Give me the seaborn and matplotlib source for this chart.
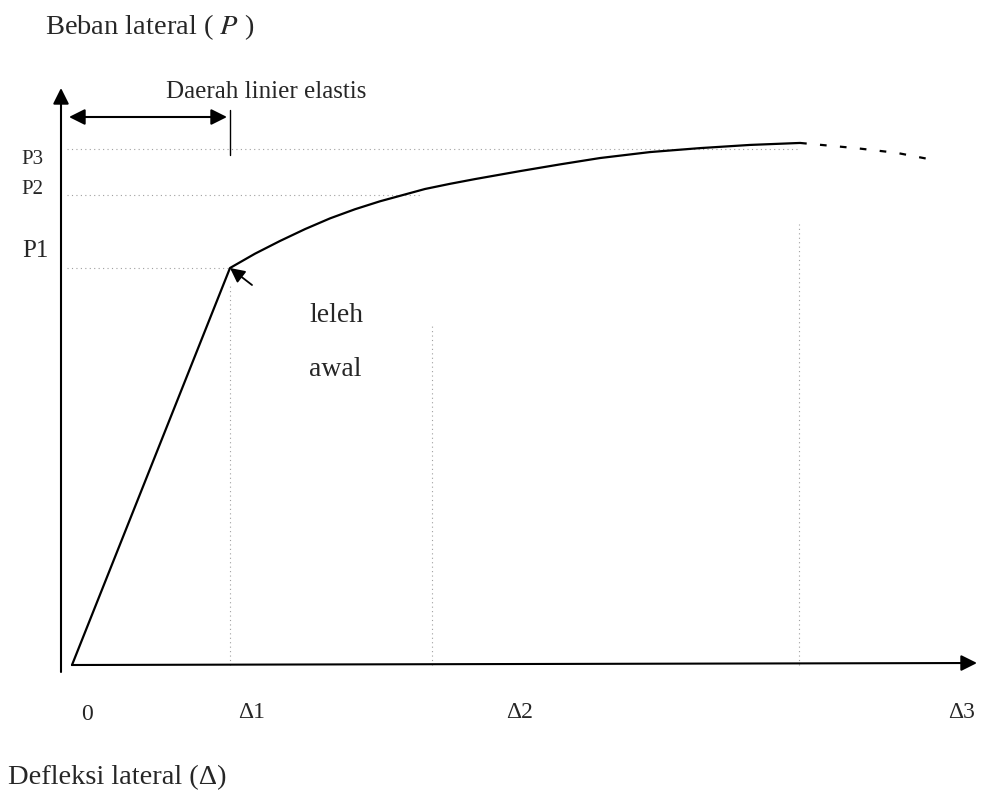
import matplotlib
matplotlib.use("Agg")
import matplotlib.pyplot as plt
import seaborn as sns

# Load-deflection curve (arbitrary units: delta1 = 1, P1 = 10)
deflection = [0.0, 1.0, 1.158, 1.316, 1.475, 1.633, 1.791, 1.949, 2.234,
              2.392, 2.551, 2.835, 3.089, 3.342, 3.658, 3.975, 4.291, 4.608]
load = [0.0, 10.0, 10.36, 10.68, 10.98, 11.25, 11.48, 11.68, 11.99,
        12.12, 12.24, 12.44, 12.61, 12.77, 12.92, 13.02, 13.10, 13.15]

# dashed descending tail after the peak
tail_deflection = [4.608, 4.96, 5.22, 5.48]
tail_load = [13.15, 13.02, 12.90, 12.70]

# reference levels
load_levels = [10.0, 11.85, 13.0]
load_labels = ["P1", "P2", "P3"]
load_guide_end = [1.0, 2.2, 4.6]

deflection_levels = [1.0, 2.28, 4.6]
deflection_labels = ["Δ1", "Δ2", "Δ3"]
deflection_guide_top = [9.6, 8.6, 11.1]

# pixel -> data helper (origin of the diagram sits at pixel 72, 665)
X0, Y0, SX, SY = 72, 665, 158, 39.7


def px(x, y):
    return (x - X0) / SX, (Y0 - y) / SY


sns.set_style("white")
plt.rcParams["font.family"] = ["Liberation Serif", "DejaVu Serif"]
plt.rcParams["mathtext.fontset"] = "stix"

fig = plt.figure(figsize=(9.9, 8.02), dpi=100)
ax = fig.add_axes([0, 0, 1, 1])

# dotted guide lines
guide = dict(color="#a0a0a0", lw=0.8, linestyle=(0, (1, 3)))
for lvl, end in zip(load_levels, load_guide_end):
    ax.plot([-0.03, end], [lvl, lvl], **guide)
for lvl, top in zip(deflection_levels, deflection_guide_top):
    ax.plot([lvl, lvl], [0, top], **guide)

# main curve
sns.lineplot(x=deflection, y=load, sort=False, color="black", lw=1.6, ax=ax)
sns.lineplot(x=tail_deflection, y=tail_load, sort=False, color="black",
             lw=1.6, linestyle=(0, (3, 6)), ax=ax)

# axes with arrows
arrow = dict(arrowstyle="-|>", color="black", lw=1.5, mutation_scale=24,
             shrinkA=0, shrinkB=0)
ax.annotate("", xy=px(61, 88), xytext=px(61, 672), arrowprops=arrow)
ax.annotate("", xy=px(977, 663), xytext=px(72, 665), arrowprops=arrow)

# elastic region marker
ax.annotate("", xy=px(69, 117), xytext=px(227, 117),
            arrowprops=dict(arrowstyle="<|-|>", color="black", lw=1.5,
                            mutation_scale=24, shrinkA=0, shrinkB=0))
ax.plot([deflection_levels[0]] * 2, [px(0, 155)[1], px(0, 110)[1]],
        color="black", lw=1.0)

# arrow to the first yield point
ax.annotate("", xy=(deflection[1], load[1]), xytext=px(252, 285),
            arrowprops=dict(arrowstyle="-|>", color="black", lw=1.3,
                            mutation_scale=22, shrinkA=0, shrinkB=0))

# texts
ax.text(*px(45, 27), "Beban lateral ( $P$ )", fontsize=20.5, ha="left", va="center")
ax.text(*px(166, 92), "Daerah linier elastis", fontsize=18, ha="left", va="center")
ax.text(*px(21, 160), load_labels[2], fontsize=15, ha="left", va="center")
ax.text(*px(21, 189), load_labels[1], fontsize=15, ha="left", va="center")
ax.text(*px(22, 251), load_labels[0], fontsize=18, ha="left", va="center")
ax.text(*px(309, 316), "leleh", fontsize=20, ha="left", va="center")
ax.text(*px(309, 369), "awal", fontsize=20, ha="left", va="center")

ax.text(*px(87, 715), "0", fontsize=17, ha="center", va="center")
for lab, xp in zip(deflection_labels, [252, 520, 962]):
    ax.text(*px(xp, 712), lab, fontsize=17, ha="center", va="center")
ax.text(*px(8, 778), "Defleksi lateral (Δ)", fontsize=20.5, ha="left", va="center")

ax.set_xlim(px(0, 0)[0], px(990, 0)[0])
ax.set_ylim(px(0, 802)[1], px(0, 0)[1])
ax.axis("off")

fig.savefig("out.png", dpi=100, facecolor="white")
